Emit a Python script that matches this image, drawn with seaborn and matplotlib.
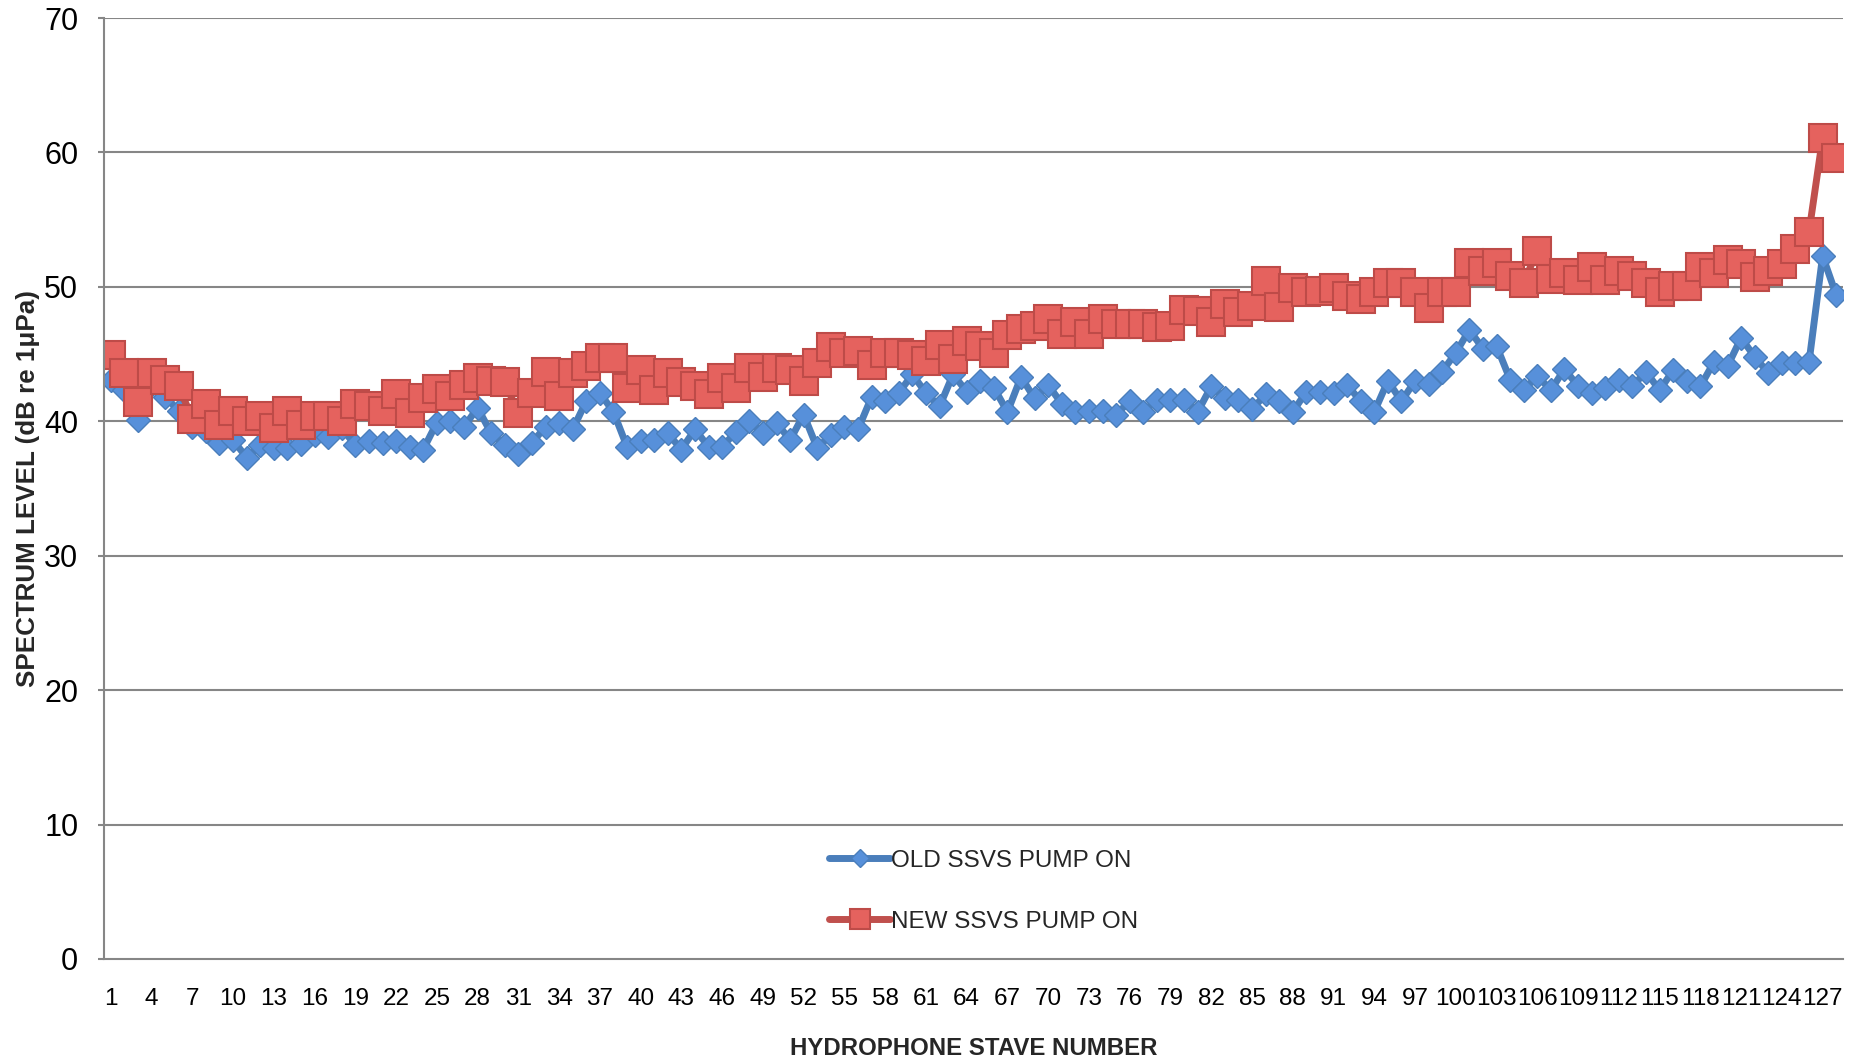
import numpy as np
import pandas as pd
import seaborn as sns
import matplotlib.pyplot as plt

# hydrophone stave numbers (128 staves, every third one labelled)
staves = list(range(1, 129))
tick_staves = list(range(1, 128, 3))

old_pump = [
    43.1, 42.3, 40.1, 42.8, 41.8, 40.8, 39.6, 39.3, 38.4, 38.6,
    37.3, 38.2, 38.0, 38.0, 38.3, 39.0, 38.8, 39.5, 38.2, 38.5,
    38.4, 38.5, 38.1, 37.9, 39.9, 40.0, 39.6, 41.0, 39.1, 38.2,
    37.6, 38.4, 39.6, 39.9, 39.4, 41.5, 42.1, 40.7, 38.1, 38.5,
    38.6, 39.1, 37.9, 39.4, 38.1, 38.1, 39.2, 40.0, 39.1, 39.9,
    38.6, 40.5, 38.0, 39.0, 39.6, 39.4, 41.8, 41.5, 42.1, 43.5,
    42.1, 41.1, 43.5, 42.2, 43.0, 42.5, 40.7, 43.3, 41.7, 42.7,
    41.3, 40.7, 40.8, 40.8, 40.5, 41.5, 40.7, 41.6, 41.6, 41.6,
    40.7, 42.6, 41.7, 41.6, 40.9, 42.0, 41.5, 40.7, 42.2, 42.2,
    42.1, 42.7, 41.5, 40.7, 43.0, 41.5, 43.0, 42.8, 43.7, 45.1,
    46.8, 45.4, 45.6, 43.1, 42.3, 43.4, 42.3, 43.9, 42.6, 42.1,
    42.5, 43.1, 42.6, 43.7, 42.3, 43.8, 43.0, 42.6, 44.4, 44.1,
    46.2, 44.8, 43.6, 44.3, 44.3, 44.4, 52.3, 49.4,
]

new_pump = [
    44.9, 43.6, 41.4, 43.6, 43.1, 42.6, 40.2, 41.3, 39.7, 40.8,
    40.0, 40.4, 39.5, 40.8, 39.7, 40.4, 40.4, 40.0, 41.3, 41.1,
    40.8, 42.0, 40.6, 41.7, 42.4, 41.9, 42.7, 43.2, 43.0, 42.9,
    40.6, 42.1, 43.7, 41.9, 43.6, 44.1, 44.7, 44.7, 42.5, 43.8,
    42.3, 43.6, 42.9, 42.6, 42.0, 43.2, 42.5, 44.0, 43.3, 44.0,
    43.8, 43.0, 44.3, 45.5, 45.1, 45.2, 44.2, 45.1, 45.1, 44.9,
    44.5, 45.7, 44.6, 46.0, 45.6, 45.1, 46.4, 46.9, 47.1, 47.6,
    46.5, 47.4, 46.5, 47.6, 47.2, 47.2, 47.2, 47.0, 47.1, 48.3,
    48.2, 47.4, 48.7, 48.1, 48.6, 50.4, 48.5, 49.9, 49.6, 49.7,
    49.9, 49.3, 49.1, 49.6, 50.3, 50.3, 49.6, 48.4, 49.6, 49.6,
    51.8, 51.2, 51.8, 50.8, 50.3, 52.7, 50.6, 51.0, 50.5, 51.5,
    50.5, 51.2, 50.8, 50.3, 49.6, 50.1, 50.1, 51.5, 51.0, 52.0,
    51.7, 50.7, 51.2, 51.7, 52.8, 54.1, 61.1, 59.6,
]

y_ticks = [0, 10, 20, 30, 40, 50, 60, 70]

sns.set_style("white")
plt.rcParams['font.family'] = ['Liberation Sans', 'DejaVu Sans']

fig = plt.figure(figsize=(18.56, 10.62), dpi=100)
ax = fig.add_axes([104 / 1856, 103 / 1062, 1739 / 1856, 941 / 1062])

grid_col = "#868686"
for v in y_ticks[1:]:
    ax.axhline(v, color=grid_col, lw=1.5, zorder=0)

sns.lineplot(x=staves, y=old_pump, ax=ax, color="#4A7EBB", lw=5,
             marker="D", markersize=12.5, markerfacecolor="#5790DA",
             markeredgecolor="#4A7EBB", markeredgewidth=1.0,
             solid_capstyle="round", label="OLD SSVS PUMP ON")
sns.lineplot(x=staves, y=new_pump, ax=ax, color="#C0504D", lw=5,
             marker="s", markersize=19.5, markerfacecolor="#E5625E",
             markeredgecolor="#BE4B48", markeredgewidth=1.5,
             solid_capstyle="round", label="NEW SSVS PUMP ON")

ax.set_xlim(0.5, 128.5)
ax.set_ylim(0, 70)
ax.set_yticks(y_ticks)
ax.set_xticks(tick_staves)
ax.set_xticklabels([str(s) for s in tick_staves])

for side in ["top", "right"]:
    ax.spines[side].set_visible(False)
for side in ["left", "bottom"]:
    ax.spines[side].set_color(grid_col)
    ax.spines[side].set_linewidth(1.5)

ax.tick_params(axis="y", length=4.5, width=1.5, color=grid_col, pad=14,
               labelsize=22, labelcolor="black", left=True)
ax.tick_params(axis="x", length=0, pad=21, labelsize=17.5, labelcolor="black")

ax.set_xlabel("HYDROPHONE STAVE NUMBER", fontsize=17.3, fontweight="bold")
ax.set_ylabel("SPECTRUM LEVEL (dB re 1μPa)", fontsize=18.7, fontweight="bold")
ax.xaxis.set_label_coords(0.5, -0.083)
ax.yaxis.set_label_coords(-0.037, 0.5)

leg = ax.legend(loc="center left", bbox_to_anchor=(0.41, 0.072), frameon=False,
                fontsize=17.5, handlelength=2.5, handletextpad=0.05,
                labelspacing=1.6, borderpad=0, markerscale=0.75)

fig.savefig("out.png", dpi=100)
